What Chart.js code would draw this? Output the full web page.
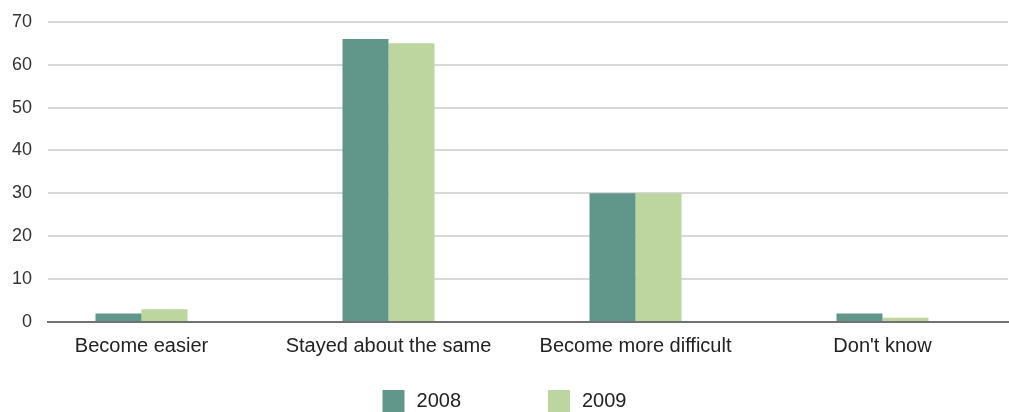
<!DOCTYPE html>
<html>
<head>
<meta charset="utf-8">
<script src="https://cdn.jsdelivr.net/npm/chart.js@4/dist/chart.umd.min.js"></script>
<style>
  html, body { margin: 0; padding: 0; background: #fff; overflow: hidden; }
  #wrap { position: relative; top: -5px; width: 1009px; height: 417px; }
</style>
</head>
<body>
<div id="wrap"><canvas id="chart"></canvas></div>
<script>
// Chart data
const categories = ['Become easier', 'Stayed about the same', 'Become more difficult', "Don't know"];
const seriesNames = ['2008', '2009'];
const values2008 = [2, 66, 30, 2];
const values2009 = [3, 65, 30, 1];
const yTicks = [0, 10, 20, 30, 40, 50, 60, 70];
const colors = ['#61978b', '#bdd59f'];

const FONT = "'Liberation Sans', Arial, Helvetica, sans-serif";

// Legend drawn by hand so the spacing between items can match
const bottomLegend = {
    id: 'bottomLegend',
    afterDraw(chart) {
        const ctx = chart.ctx;
        const box = 22, textGap = 12, itemGap = 87;
        ctx.save();
        ctx.font = '20px ' + FONT;
        const widths = chart.data.datasets.map(ds => box + textGap + ctx.measureText(ds.label).width);
        const total = widths.reduce((a, b) => a + b, 0) + itemGap * (widths.length - 1);
        let x = (chart.width - total) / 2;
        const top = 395;
        chart.data.datasets.forEach((ds, i) => {
            ctx.fillStyle = ds.backgroundColor;
            ctx.fillRect(x, top, box, box);
            ctx.fillStyle = '#222';
            ctx.textBaseline = 'middle';
            ctx.textAlign = 'left';
            ctx.fillText(ds.label, x + box + textGap, top + 11);
            x += widths[i] + itemGap;
        });
        ctx.restore();
    }
};

const ctx = document.getElementById('chart').getContext('2d');
const chart = new Chart(ctx, {
    type: 'bar',
    data: {
        datasets: [
            {
                label: seriesNames[0],
                data: values2008.map((v, i) => ({ x: i, y: v })),
                backgroundColor: colors[0],
            },
            {
                label: seriesNames[1],
                data: values2009.map((v, i) => ({ x: i, y: v })),
                backgroundColor: colors[1],
            }
        ]
    },
    options: {
        responsive: true,
        maintainAspectRatio: false,
        animation: false,
        categoryPercentage: 0.3725,
        barPercentage: 1,
        layout: { padding: { top: 12, right: 1, bottom: 42, left: 0 } },
        plugins: {
            legend: { display: false },
            tooltip: { enabled: false }
        },
        scales: {
            x: {
                type: 'linear',
                offset: false,
                min: -0.3785,
                max: 3.508,
                afterBuildTicks: (scale) => {
                    scale.ticks = categories.map((_, i) => ({ value: i }));
                },
                grid: { display: false, drawTicks: false },
                border: { display: true, color: '#727272', width: 2 },
                ticks: {
                    autoSkip: false,
                    maxRotation: 0,
                    padding: 12,
                    color: '#222',
                    font: { family: FONT, size: 20 },
                    callback: (v) => categories[v]
                }
            },
            y: {
                min: 0,
                max: 70,
                afterBuildTicks: (scale) => {
                    scale.ticks = yTicks.map(v => ({ value: v }));
                },
                afterFit: (scale) => { scale.width = 48; },
                grid: { color: '#d8d8d8', lineWidth: 2, drawTicks: false },
                border: { display: false },
                ticks: {
                    padding: 16,
                    color: '#333',
                    font: { family: FONT, size: 18 }
                }
            }
        }
    },
    plugins: [bottomLegend]
});
</script>
</body>
</html>
